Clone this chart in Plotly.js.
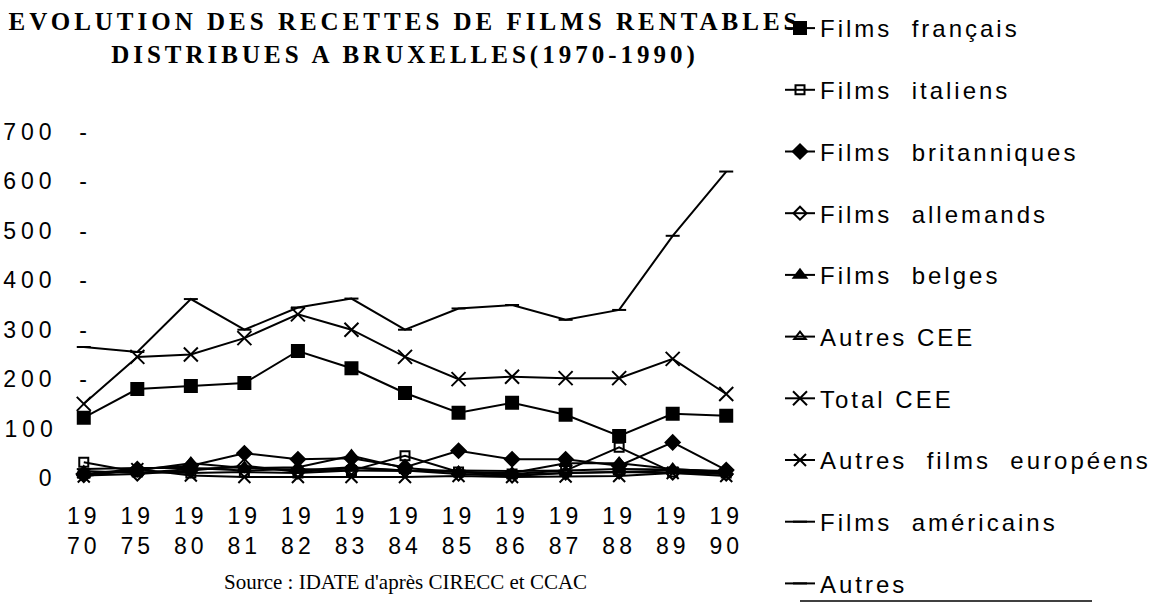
<!DOCTYPE html>
<html>
<head>
<meta charset="utf-8">
<script src="https://cdn.plot.ly/plotly-3.0.1.min.js"></script>
<style>
  html, body { margin: 0; padding: 0; background: #fff; }
  #chart { width: 1168px; height: 607px; }
  .xtick text { letter-spacing: 4px; }
  .ytick text { letter-spacing: 5px; white-space: pre; }
  .legendtext { letter-spacing: 3px; white-space: pre; }
  .gtitle { letter-spacing: 4px; }
</style>
</head>
<body>
<div id="chart"></div>
<script>
// ---- data ----
const years = ['1970','1975','1980','1981','1982','1983','1984','1985','1986','1987','1988','1989','1990'];
const yearTickText = ['19<br>70','19<br>75','19<br>80','19<br>81','19<br>82','19<br>83','19<br>84','19<br>85','19<br>86','19<br>87','19<br>88','19<br>89','19<br>90'];
const yTickVals = [0,100,200,300,400,500,600,700];
const yTickText = ['0  -','100   ','200  -','300  -','400  -','500  -','600  -','700  -'];

const filmsFrancais      = [122, 180, 186, 192, 257, 222, 172, 132, 152, 128,  85, 130, 126];
const filmsItaliens      = [ 32,  12,  10,  12,  10,  15,  45,  12,   8,  15,  62,  12,  10];
const filmsBritanniques  = [  8,  18,  25,  50,  38,  40,  22,  55,  38,  38,  25,  72,  16];
const filmsAllemands     = [  5,   8,  15,  25,  12,  20,  15,   8,   4,  10,  12,  10,   8];
const filmsBelges        = [  6,  15,  30,  20,  22,  45,  20,  12,  10,  30,  30,  18,  12];
const autresCEE          = [ 14,  10,  18,  22,  15,  22,  15,  12,   6,  10,  12,  15,  10];
const totalCEE           = [150, 245, 250, 283, 331, 300, 245, 200, 205, 202, 202, 241, 170];
const autresEuropeens    = [  3,  18,   5,   2,   2,   2,   2,   4,   2,   3,   4,  10,   4];
const filmsAmericains    = [265, 255, 362, 300, 345, 363, 300, 343, 350, 320, 340, 490, 620];
const autres             = [ 18,  20,  20,  15,  18,  15,  14,  15,  14,  15,  18,  17,  14];

const seriesNames = [
  'Films  français', 'Films  italiens', 'Films  britanniques', 'Films  allemands',
  'Films  belges', 'Autres CEE', 'Total CEE', 'Autres  films  européens',
  'Films  américains', 'Autres'
];
const seriesData = [filmsFrancais, filmsItaliens, filmsBritanniques, filmsAllemands,
  filmsBelges, autresCEE, totalCEE, autresEuropeens, filmsAmericains, autres];
const symbols = ['square','square-open','diamond','diamond-open','triangle-up','triangle-up-open',
  'x-thin-open','x-thin-open','line-ew-open','line-ew-open'];
const sizes = [12, 9, 11, 10, 11, 10, 14, 12, 10, 10];

const traces = seriesData.map((vals, i) => ({
  type: 'scatter',
  mode: 'lines+markers',
  x: years,
  y: vals,
  name: seriesNames[i],
  legendgroup: 'g' + i,
  cliponaxis: false,
  line: { color: '#000', width: 2 },
  marker: { symbol: symbols[i], size: sizes[i], color: '#000',
            line: { color: '#000', width: 2 } }
}));

const layout = {
  width: 1168, height: 607,
  paper_bgcolor: '#fff', plot_bgcolor: '#fff',
  margin: { l: 57, r: 415, t: 132, b: 129 },
  font: { family: 'Liberation Sans, Arial, sans-serif', color: '#000', size: 22 },
  title: {
    text: 'EVOLUTION DES RECETTES DE FILMS RENTABLES<br>DISTRIBUES A BRUXELLES(1970-1990)',
    font: { family: 'Liberation Serif, Times New Roman, serif', size: 25, color: '#000', weight: 'bold' },
    xref: 'container', x: 405 / 1168, xanchor: 'center',
    yref: 'container', y: 1 - 30 / 607, yanchor: 'middle'
  },
  xaxis: {
    type: 'category', range: [-0.5, 12.5],
    tickvals: years, ticktext: yearTickText,
    showgrid: false, zeroline: false, showline: false, ticks: '',
    ticklabelstandoff: 22,
    tickfont: { family: 'Liberation Sans, Arial, sans-serif', size: 23, color: '#000' }
  },
  yaxis: {
    range: [0, 700],
    tickvals: yTickVals, ticktext: yTickText,
    showgrid: false, zeroline: false, showline: false, ticks: '',
    ticklabelstandoff: -36,
    tickfont: { family: 'Liberation Sans, Arial, sans-serif', size: 23, color: '#000' }
  },
  showlegend: true,
  legend: {
    xref: 'container', yref: 'container',
    x: 780 / 1168, xanchor: 'left',
    y: 1 - 6 / 607, yanchor: 'top',
    traceorder: 'grouped', tracegroupgap: 27.5,
    itemwidth: 30, maxheight: 640,
    bgcolor: 'rgba(0,0,0,0)',
    font: { family: 'Liberation Sans, Arial, sans-serif', size: 24, color: '#000' }
  },
  annotations: [{
    text: "Source : IDATE d'après CIRECC et CCAC",
    xref: 'paper', yref: 'paper',
    x: (405 - 57) / 696, y: (478 - 582) / 346,
    xanchor: 'center', yanchor: 'middle', showarrow: false,
    font: { family: 'Liberation Serif, Times New Roman, serif', size: 21, color: '#000' }
  }],
  shapes: [{
    type: 'line', xref: 'paper', yref: 'paper',
    x0: (800 - 57) / 696, x1: (1092 - 57) / 696,
    y0: (478 - 601) / 346, y1: (478 - 601) / 346,
    line: { color: '#000', width: 1.5 }
  }]
};

Plotly.newPlot('chart', traces, layout, { displayModeBar: false, staticPlot: true });
</script>
</body>
</html>
